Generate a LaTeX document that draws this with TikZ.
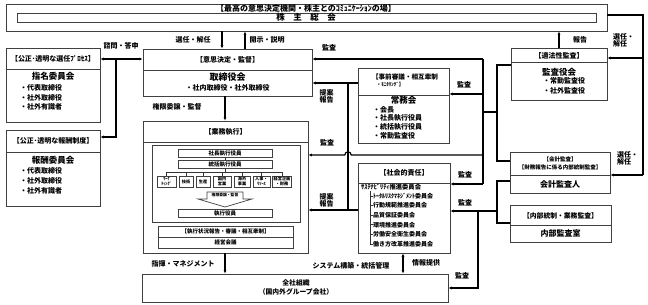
\documentclass[tikz,border=0pt]{standalone}
\usepackage{fontspec}
\setmainfont{Noto Sans CJK JP}
\usetikzlibrary{arrows.meta}
\newcommand\fs[1]{\fontsize{#1}{#1}\selectfont\bfseries}
\newcommand\mkbox[5]{\node[box, minimum width={#4-#2}, minimum height={#5-#3}] (#1) at ({(#2+#4)/2},{(#3+#5)/2}) {};}
\tikzset{
  box/.style={draw=black!75, line width=0.7pt, inner sep=0pt, fill=white, rectangle},
  divl/.style={draw=black!75, line width=0.7pt},
  thinl/.style={draw=black!80, line width=0.5pt},
  conn/.style={line width=1.2pt, black},
  arr/.style={conn, -{Latex[length=3.4pt,width=3pt]}},
  darr/.style={conn, {Latex[length=3.4pt,width=3pt]}-{Latex[length=3.4pt,width=3pt]}},
  tx/.style={inner sep=0pt, font=\fs{7}},
  it/.style={inner sep=0pt, font=\fs{7}, anchor=west},
  nm/.style={inner sep=0pt, font=\fs{8.5}},
  lb/.style={inner sep=0pt, font=\fs{7}},
  lb2/.style={inner sep=0pt, font=\fs{7}, align=left, anchor=west},
  dept/.style={box, font={\fontsize{4.2}{5}\selectfont\bfseries}, align=center},
  sbox/.style={box, font=\fs{5.5}},
}
\begin{document}
\begin{tikzpicture}[x=1pt,y=-1pt]
\useasboundingbox (0,0) rectangle (648,305);

% ---------- boxes ----------
\mkbox{top}{6}{4}{607}{31}
\mkbox{topin}{17}{13}{596}{22}
\node[tx,font=\fs{8}] (toptitle) at (306,8.6) {【最高の意思決定機関・株主とのｺﾐｭﾆｹｰｼｮﾝの場】};
\node[tx,font=\fs{8.5}] (gm) at (306,17.6) {株　主　総　会};

\mkbox{board}{143}{49}{312}{96}
\draw[divl] (143,70) -- (312,70);
\node[tx] (bt) at (227.5,59.5) {【意思決定・監督】};
\node[nm,font=\fs{9}] (bn) at (227.5,77.5) {取締役会};
\node[tx] (bi) at (227.5,88) {・社内取締役・社外取締役};

\mkbox{nom}{6}{48}{100}{122}
\draw[divl] (6,69) -- (100,69);
\node[tx] (nt) at (53,58.5) {【公正･透明な選任ﾌﾟﾛｾｽ】};
\node[nm] (nn) at (53,76) {指名委員会};
\node[it] (n1) at (20,88) {・代表取締役};
\node[it] (n2) at (20,97.5) {・社外取締役};
\node[it] (n3) at (20,107) {・社外有識者};

\mkbox{rem}{6}{130}{100}{206}
\draw[divl] (6,152) -- (100,152);
\node[tx] (rt) at (53,140.5) {【公正･透明な報酬制度】};
\node[nm] (rn) at (53,160) {報酬委員会};
\node[it] (r1) at (20,171) {・代表取締役};
\node[it] (r2) at (20,181) {・社外取締役};
\node[it] (r3) at (20,191) {・社外有識者};

\mkbox{exec}{143}{121}{308}{253}
\draw[divl] (143,142) -- (308,142);
\node[tx] (et) at (225.5,131.5) {【業務執行】};
\mkbox{execin}{152}{145}{300}{222}
\node[sbox, minimum width=94, minimum height=8] (pres) at (225,153) {社長執行役員};
\node[sbox, minimum width=94, minimum height=8] (gen) at (225,164) {統括執行役員};
\coordinate (bus) at (225,172);
\node[dept, minimum width=19, minimum height=11] (d1) at (166.5,181.5) {ﾏｰｹ\\ﾃｨﾝｸﾞ};
\node[dept, minimum width=14, minimum height=11] (d2) at (186,181.5) {技術};
\node[dept, minimum width=14, minimum height=11] (d3) at (203,181.5) {生産};
\node[dept, minimum width=18, minimum height=11] (d4) at (222,181.5) {国内\\営業};
\node[dept, minimum width=16, minimum height=11] (d5) at (242,181.5) {海外\\事業};
\node[dept, minimum width=17, minimum height=11] (d6) at (261.5,181.5) {人事・\\ﾘｿｰｽ};
\node[dept, minimum width=19, minimum height=11] (d7) at (282,181.5) {経営企画\\・財務};
\draw[thinl] (pres) -- (gen);
\draw[thinl] (gen.south) -- (bus);
\draw[thinl] (d1.north |- bus) -- (d7.north |- bus);
\foreach \d in {d1,d2,d3,d4,d5,d6,d7} {\draw[thinl] (\d.north |- bus) -- (\d.north);}
\draw[box] (207,192) -- (243,192) -- (243,199) -- (252,199) -- (225,207) -- (198,199) -- (207,199) -- cycle;
\node[tx,font=\fs{3.8}] (ba) at (225,195.5) {権限委譲・監督};
\node[sbox, minimum width=94, minimum height=8] (exo) at (225,213) {執行役員};
\node[sbox, minimum width=135, minimum height=11] (rep) at (225.5,231.5) {【執行状況報告・審議・相互牽制】};
\node[sbox, minimum width=135, minimum height=11] (mtg) at (225.5,242.5) {経営会議};

\mkbox{jomu}{358}{68}{449}{143}
\draw[divl] (358,95) -- (449,95);
\node[tx,font=\fs{6.6}] (jt1) at (405,76.5) {【事前審議・相互牽制};
\node[tx,font=\fs{5}] (jt2) at (390,85) {・ﾓﾆﾀﾘﾝｸﾞ】};
\node[nm] (jn) at (403.5,100) {常務会};
\node[it] (j1) at (373,109.5) {・会長};
\node[it] (j2) at (373,118.3) {・社長執行役員};
\node[it] (j3) at (373,127) {・統括執行役員};
\node[it] (j4) at (373,136) {・常勤監査役};

\mkbox{social}{358}{163}{450}{253}
\draw[divl] (358,183) -- (450,183);
\node[tx] (st) at (404,173) {【社会的責任】};
\node[it,font=\fs{6.3}] (s0) at (361,187) {ｻｽﾃﾅﾋﾞﾘﾃｨ推進委員会};
\draw[thinl, line width=0.8pt] (370,191) -- (370,244.5);
\foreach \yy/\nn/\tt in {196/s1/ﾄｰﾀﾙﾘｽｸﾏﾈｼﾞﾒﾝﾄ委員会, 205.6/s2/行動規範推進委員会, 215.2/s3/品質保証委員会, 224.8/s4/環境推進委員会, 234.4/s5/労働安全衛生委員会, 244/s6/働き方改革推進委員会} {
  \draw[thinl, line width=0.8pt] (370,\yy) -- (372.5,\yy);
  \node[it,font=\fs{6}] (\nn) at (373,\yy) {\tt};
}

\mkbox{kansa}{511}{48}{607}{100}
\draw[divl] (511,62.5) -- (607,62.5);
\node[tx] (kt) at (559,56) {【適法性監査】};
\node[nm] (kn) at (559,72) {監査役会};
\node[it] (k1t) at (543,81) {・常勤監査役};
\node[it] (k2t) at (543,90.5) {・社外監査役};

\mkbox{kaikei}{510}{152}{610}{193}
\draw[divl] (510,175) -- (610,175);
\node[tx,font=\fs{5.5}] (at1) at (560,159) {【会計監査】};
\node[tx,font=\fs{5.5}] (at2) at (560,167.5) {【財務報告に係る内部統制監査】};
\node[nm,font=\fs{8}] (an) at (560,184) {会計監査人};

\mkbox{naibu}{510}{205}{611}{242}
\draw[divl] (510,225) -- (611,225);
\node[tx,font=\fs{6.8}] (it1) at (560.5,215.5) {【内部統制・業務監査】};
\node[nm,font=\fs{8}] (in) at (560.5,233.5) {内部監査室};

\mkbox{zensha}{142}{274}{448}{302}
\node[tx,font=\fs{6.8}] (z1) at (296,283) {全社組織};
\node[tx,font=\fs{6.8}] (z2) at (296,292) {（国内外グループ会社）};

% ---------- coordinates ----------
\coordinate (xa) at (222,0);
\coordinate (xb) at (245,0);
\coordinate (xe) at (225,0);
\coordinate (xi) at (403,0);
\coordinate (s1) at (116,59);
\coordinate (s2) at (116,137);
\coordinate (t1) at (348,83);
\coordinate (t2) at (348,210);
\coordinate (b1) at (483,59);
\coordinate (b2) at (483,94);
\coordinate (b3) at (483,112);
\coordinate (b4) at (483,155);
\coordinate (b5) at (483,184);
\coordinate (k1) at (497,65);
\coordinate (k2) at (497,161);
\coordinate (m1) at (497,181);
\coordinate (m2) at (497,223);
\coordinate (m3) at (497,211);
\coordinate (m4) at (478,211);
\coordinate (m5) at (478,288);
\coordinate (r1) at (643,15);
\coordinate (r2) at (643,58);
\coordinate (r3) at (643,175);

% ---------- connectors ----------
\draw[arr] (top.south -| xa) -- (board.north -| xa);
\draw[arr] (board.north -| xb) -- (top.south -| xb);
\draw[arr] (kansa.north) -- (top.south -| kansa.north);
\draw[conn] (top.east |- r1) -- (r1) -- (r3);
\draw[arr] (r2) -- (kansa.east |- r2);
\draw[arr] (r3) -- (kaikei.east |- r3);

\draw[darr] (nom.east |- s1) -- (board.west |- s1);
\draw[arr] (s1) -- (s2) -- (rem.east |- s2);

\draw[arr] (board.south -| xe) -- (exec.north -| xe);
\draw[arr] (exec.south -| xe) -- (zensha.north -| xe);
\draw[darr] (social.south -| xi) -- (zensha.north -| xi);

\draw[arr] (jomu.west |- t1) -- (board.east |- t1);
\draw[conn] (t1) -- (t2);
\draw[arr] (social.west |- t2) -- (exec.east |- t2);

\draw[conn] (b1) -- (b5);
\draw[arr] (b1) -- (board.east |- b1);
\draw[arr] (b2) -- (jomu.east |- b2);
\draw[arr] (b5) -- (social.east |- b5);
\draw[arr] (b4) -- ([xshift=3.2pt]t1 |- b4) arc[start angle=0, end angle=180, radius=3.2pt] -- (exec.east |- b4);
\draw[conn] (kansa.west |- k1) -- (k1) -- (k2) -- (kaikei.west |- k2);
\draw[conn] (k1 |- b3) -- (b3);

\draw[conn] (kaikei.west |- m1) -- (m1) -- (m2) -- (naibu.west |- m2);
\draw[arr] (m3) -- (social.east |- m3);
\draw[arr] (m4) -- (m5) -- (zensha.east |- m5);

% ---------- labels ----------
\node[lb] (l1) at (193,40) {選任・解任};
\node[lb] (l2) at (267,40) {開示・説明};
\node[lb] (l3) at (329,48) {監査};
\node[lb] (l4) at (121,46) {諮問・答申};
\node[lb] (l5) at (177,107) {権限委譲・監督};
\node[lb,align=center] (l6) at (326.5,96) {提案\\報告};
\node[lb] (l7) at (327,143) {監査};
\node[lb,align=center] (l8) at (326.5,200) {提案\\報告};
\node[lb] (l9) at (464,85) {監査};
\node[lb] (l10) at (465,175) {監査};
\node[lb] (l11) at (465,202.5) {監査};
\node[lb] (l12) at (462,276) {監査};
\node[lb] (l13) at (580,40) {報告};
\node[lb2] (l14) at (613,40) {選任・\\解任};
\node[lb2] (l15) at (617,158) {選任・\\解任};
\node[lb] (l16) at (183,264) {指揮・マネジメント};
\node[lb] (l17) at (351,266) {システム構築・統括管理};
\node[lb] (l18) at (426,263) {情報提供};
\end{tikzpicture}
\end{document}
